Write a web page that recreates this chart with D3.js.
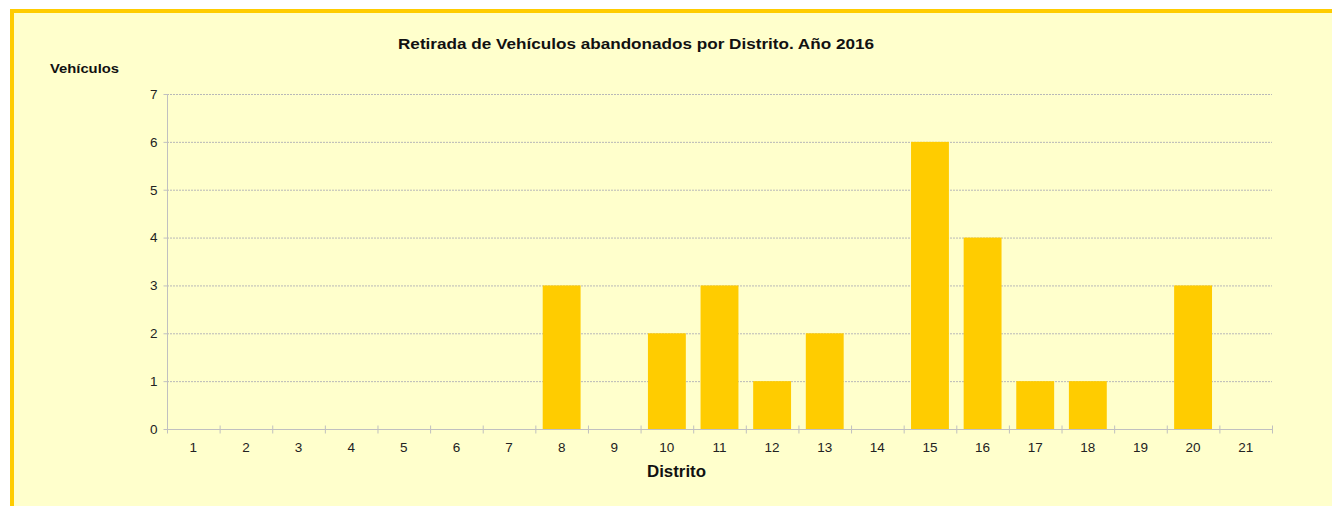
<!DOCTYPE html>
<html><head><meta charset="utf-8">
<script src="https://cdn.jsdelivr.net/npm/d3@7/dist/d3.min.js"></script>
<style>html,body{margin:0;padding:0;background:#fff;}svg{display:block;font-family:"Liberation Sans",Arial,sans-serif;}</style>
</head><body>
<script>
const categories = ["1","2","3","4","5","6","7","8","9","10","11","12","13","14","15","16","17","18","19","20","21"];
const values = [0,0,0,0,0,0,0,3,0,2,3,1,2,0,6,4,1,1,0,3,0];
const yTicks = [0,1,2,3,4,5,6,7];
const title = "Retirada de Vehículos abandonados por Distrito. Año 2016";
const yTitle = "Vehículos";
const xTitle = "Distrito";

(function () {
const W = 1332, H = 506;
const svg = d3.select("body").append("svg").attr("width", W).attr("height", H);
// frame
svg.append("rect").attr("x", 10).attr("y", 9).attr("width", W + 20).attr("height", H + 20)
  .attr("fill", "#FFFFCC");
svg.append("rect").attr("x", 10).attr("y", 9).attr("width", W).attr("height", 4).attr("fill", "#FFCC00");
svg.append("rect").attr("x", 10).attr("y", 9).attr("width", 4).attr("height", H).attr("fill", "#FFCC00");

const pl = 167, pr = 1272, pt = 94, pb = 429;
const x = d3.scaleBand().domain(categories).range([pl, pr]).paddingInner(0.28).paddingOuter(0.14);
const xb = d3.scaleBand().domain(categories).range([pl, pr]).padding(0);
const y = d3.scaleLinear().domain([0, 7]).range([pb, pt]);

// gridlines
svg.append("g").selectAll("line").data(yTicks.filter(d => d > 0)).join("line")
  .attr("x1", pl).attr("x2", pr).attr("y1", d => y(d) + 0.5).attr("y2", d => y(d) + 0.5)
  .attr("stroke", "#b8b8b8").attr("stroke-width", 1).attr("stroke-dasharray", "2,1");

// bars
svg.append("g").selectAll("rect").data(values.map((v, i) => ({c: categories[i], v}))).join("rect")
  .attr("x", d => x(d.c)).attr("width", x.bandwidth())
  .attr("y", d => y(d.v)).attr("height", d => y(0) - y(d.v))
  .attr("fill", "#FFCC00");

// y axis
const yAxis = d3.axisLeft(y).tickValues(yTicks).tickSize(4).tickPadding(6).tickFormat(d3.format("d"));
const gy = svg.append("g").attr("transform", `translate(${pl + 0.5},0)`).call(yAxis);
gy.select(".domain").attr("stroke", "#c0c0c0").attr("d", `M0,${pt}V${pb}`);
gy.selectAll(".tick line").attr("stroke", "#c0c0c0");
gy.selectAll(".tick text").attr("font-size", 13.5).attr("fill", "#222").attr("font-family", "Liberation Sans, Arial, sans-serif");

// x axis
const gx = svg.append("g").attr("transform", `translate(0,${pb + 0.5})`);
gx.append("line").attr("x1", pl).attr("x2", pr).attr("stroke", "#c0c0c0");
gx.selectAll("line.t").data(categories.concat(["end"])).join("line").attr("class", "t")
  .attr("x1", (d, i) => (i < categories.length ? xb(d) : pr) + 0.5)
  .attr("x2", (d, i) => (i < categories.length ? xb(d) : pr) + 0.5)
  .attr("y1", -4).attr("y2", 4).attr("stroke", "#c0c0c0");
gx.selectAll("text").data(categories).join("text")
  .attr("x", d => xb(d) + xb.bandwidth() / 2).attr("y", 22)
  .attr("text-anchor", "middle").attr("font-size", 13.5).attr("fill", "#222").text(d => d);

// titles
svg.append("text").attr("x", 636).attr("y", 49).attr("text-anchor", "middle")
  .attr("font-size", 15.5).attr("font-weight", "bold").attr("fill", "#111")
  .attr("textLength", 476).attr("lengthAdjust", "spacingAndGlyphs").text(title);
svg.append("text").attr("x", 50).attr("y", 73).attr("font-size", 13.5).attr("font-weight", "bold").attr("fill", "#111")
  .attr("textLength", 69).attr("lengthAdjust", "spacingAndGlyphs").text(yTitle);
svg.append("text").attr("x", 676.5).attr("y", 477).attr("text-anchor", "middle")
  .attr("font-size", 16).attr("font-weight", "bold").attr("fill", "#111")
  .attr("textLength", 59).attr("lengthAdjust", "spacingAndGlyphs").text(xTitle);
})();
</script>
</body></html>
